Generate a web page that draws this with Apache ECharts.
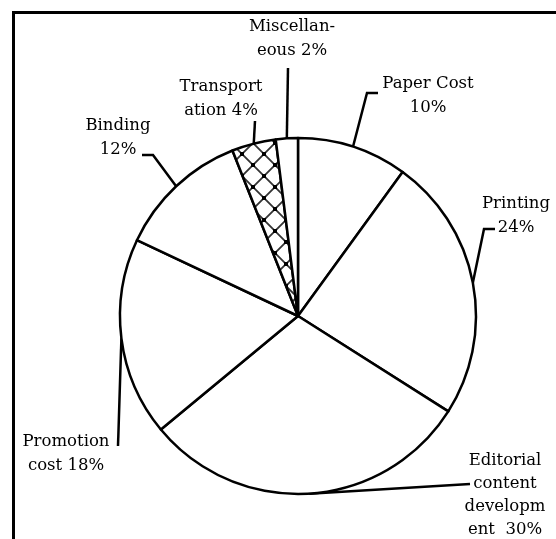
<!DOCTYPE html>
<html>
<head>
<meta charset="utf-8">
<script src="https://cdn.jsdelivr.net/npm/echarts@6/dist/echarts.min.js"></script>
<style>
html, body { margin: 0; padding: 0; background: #fff; }
#chart { width: 556px; height: 539px; }
</style>
</head>
<body>
<div id="chart"></div>
<script>
// data, clockwise from 12 o'clock
const names = ['Paper Cost', 'Printing', 'Editorial content development', 'Promotion cost', 'Binding', 'Transportation', 'Miscellaneous']
const shares = [10, 24, 30, 18, 12, 4, 2]
const labelTexts = ['Paper Cost\n10%', 'Printing\n24%', 'Editorial\ncontent\ndevelopm\nent  30%', 'Promotion\ncost 18%', 'Binding\n12%', 'Transport\nation 4%', 'Miscellan-\neous 2%']

// label placement (block centre) and leader-line bends
const labelAt = [[428, 96], [516, 216], [505, 495], [66, 454], [118, 138], [221, 99], [292, 39]]
const leaderBends = [
    [[367, 93], [378, 93]],
    [[484, 229], [495, 229]],
    [[470, 484]],
    [[118, 446]],
    [[153, 155], [142, 155]],
    [[255, 121]],
    [[288, 68]],
]
const lineHeights = [24, 24, 23, 24, 24, 24, 24]

function makeHatch() {
    const s = 22
    const c = document.createElement('canvas')
    c.width = s
    c.height = s
    const g = c.getContext('2d')
    g.fillStyle = '#fff'
    g.fillRect(0, 0, s, s)
    g.strokeStyle = '#333'
    g.lineWidth = 1.8
    g.beginPath()
    g.moveTo(0, 0); g.lineTo(s, s)
    g.moveTo(s, 0); g.lineTo(0, s)
    g.stroke()
    g.fillStyle = '#000'
    g.fillRect(s / 2 - 2, s / 2 - 2, 4, 4)
    ;[[0, 0], [s, 0], [0, s], [s, s]].forEach(([x, y]) => g.fillRect(x - 2, y - 2, 4, 4))
    return c
}

const chart = echarts.init(document.getElementById('chart'), null, { renderer: 'canvas' })

chart.setOption({
    animation: false,
    graphic: [{
        type: 'rect',
        left: 11,
        top: 10,
        shape: { width: 700, height: 700 },
        style: { fill: 'none', stroke: '#000', lineWidth: 3 },
        silent: true,
    }],
    series: [{
        type: 'pie',
        center: [298, 316],
        radius: 178,
        startAngle: 90,
        clockwise: true,
        avoidLabelOverlap: false,
        silent: true,
        emphasis: { disabled: true },
        itemStyle: { color: '#fff', borderColor: '#000', borderWidth: 2.5 },
        label: {
            show: true,
            position: 'outside',
            formatter: p => labelTexts[p.dataIndex],
            fontFamily: 'DejaVu Serif',
            fontSize: 16.5,
            color: '#000',
        },
        labelLine: { show: true, lineStyle: { color: '#000', width: 2.5 } },
        labelLayout: p => {
            const i = p.dataIndex
            const start = p.labelLinePoints ? p.labelLinePoints[0] : leaderBends[i][0]
            return {
                x: labelAt[i][0],
                y: labelAt[i][1],
                align: 'center',
                verticalAlign: 'middle',
                labelLinePoints: [start].concat(leaderBends[i]),
            }
        },
        data: names.map((n, i) => ({
            name: n,
            value: shares[i],
            label: { lineHeight: lineHeights[i] },
            itemStyle: i === 5 ? { color: { image: makeHatch(), repeat: 'repeat' } } : undefined,
        })),
    }],
})

window.addEventListener('resize', () => chart.resize())
</script>
</body>
</html>
